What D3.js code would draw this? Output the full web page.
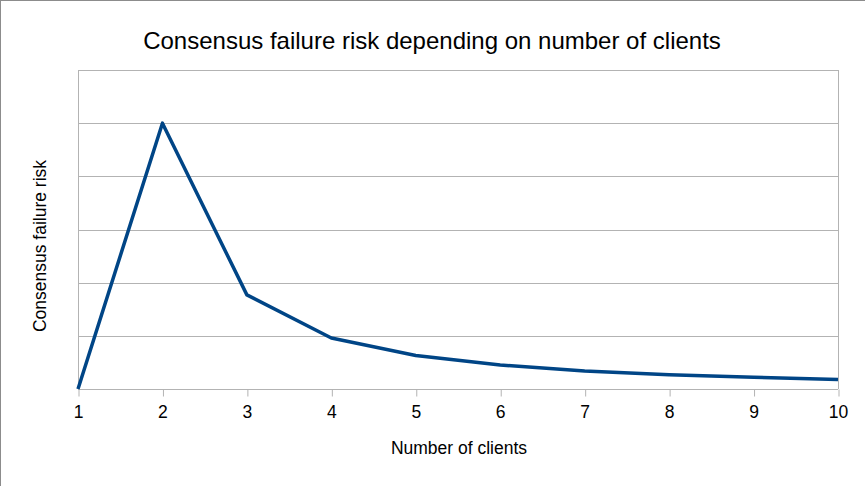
<!DOCTYPE html>
<html>
<head>
<meta charset="utf-8">
<script src="https://cdn.jsdelivr.net/npm/d3@7"></script>
<style>
  body { margin: 0; background: #fff; }
  text { font-family: "Liberation Sans", Arial, sans-serif; fill: #000; }
</style>
</head>
<body>
<div id="chart"></div>
<script>
/*
DATA
*/
const clients = [1, 2, 3, 4, 5, 6, 7, 8, 9, 10];
const risk = [0, 5, 1.77, 0.96, 0.63, 0.45, 0.34, 0.27, 0.22, 0.18];
const gridValues = [0, 1, 2, 3, 4, 5, 6];

/*
SET UP
*/
const w = 865;
const h = 486;
const m = { top: 70, right: 27, bottom: 97, left: 78 };

const svg = d3
	.select("#chart")
	.append("svg")
	.attr("width", w)
	.attr("height", h);

// outer frame (left / top edges)
svg.append("line").attr("x1", 0.5).attr("x2", 0.5).attr("y1", 0).attr("y2", h).attr("stroke", "#8c8c8c");
svg.append("line").attr("x1", 0).attr("x2", w).attr("y1", 0.5).attr("y2", 0.5).attr("stroke", "#8c8c8c");

const x = d3.scaleLinear().domain([1, 10]).range([m.left, w - m.right]);
const y = d3.scaleLinear().domain([0, 6]).range([h - m.bottom, m.top]);

/*
GRID
*/
svg
	.selectAll(".grid")
	.data(gridValues)
	.join("line")
	.attr("class", "grid")
	.attr("x1", m.left)
	.attr("x2", w - m.right)
	.attr("y1", (d) => Math.round(y(d)) + 0.5)
	.attr("y2", (d) => Math.round(y(d)) + 0.5)
	.attr("stroke", "#b3b3b3")
	.attr("stroke-width", 1);

// plot side edges
[m.left, w - m.right].forEach((px) => {
	svg.append("line")
		.attr("x1", Math.round(px) + 0.5).attr("x2", Math.round(px) + 0.5)
		.attr("y1", m.top).attr("y2", h - m.bottom)
		.attr("stroke", "#b3b3b3");
});

/*
X AXIS
*/
const xAxis = svg
	.append("g")
	.attr("transform", `translate(0,${Math.round(y(0)) + 0.5})`)
	.call(d3.axisBottom(x).tickValues(clients).tickSize(7).tickPadding(9).tickFormat(d3.format("d")));
xAxis.select(".domain").remove();
xAxis.selectAll(".tick line").attr("stroke", "#b3b3b3").attr("transform", "translate(0.5,0)");
xAxis.selectAll(".tick text").attr("font-size", 17.5).attr("fill", "#000").style("font-family", "Liberation Sans, Arial, sans-serif");

/*
LINE
*/
const line = d3
	.line()
	.x((d, i) => x(clients[i]))
	.y((d) => y(d));

svg
	.append("path")
	.datum(risk)
	.attr("d", line)
	.attr("fill", "none")
	.attr("stroke", "#004586")
	.attr("stroke-width", 3.5)
	.attr("stroke-linejoin", "round");

/*
TEXT
*/
svg.append("text")
	.attr("x", 432)
	.attr("y", 49)
	.attr("text-anchor", "middle")
	.attr("font-size", 24)
	.text("Consensus failure risk depending on number of clients");

svg.append("text")
	.attr("x", 459)
	.attr("y", 454)
	.attr("text-anchor", "middle")
	.attr("font-size", 17.5)
	.text("Number of clients");

svg.append("text")
	.attr("transform", "translate(46,246) rotate(-90)")
	.attr("text-anchor", "middle")
	.attr("font-size", 17.5)
	.text("Consensus failure risk");
</script>
</body>
</html>
